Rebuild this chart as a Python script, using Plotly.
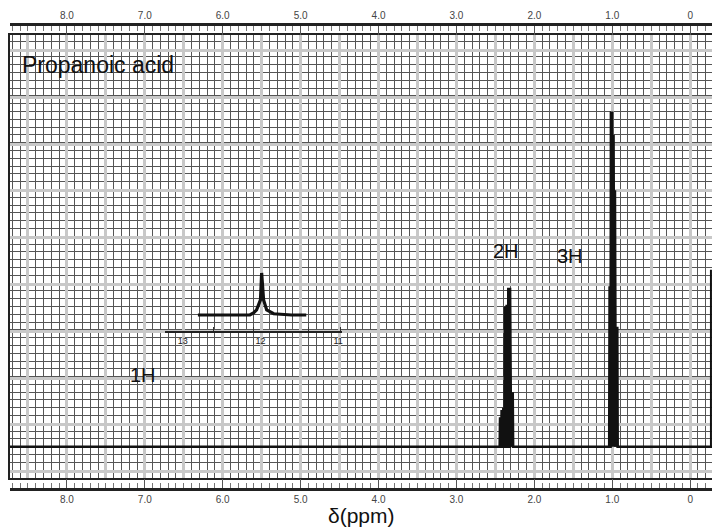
import plotly.graph_objects as go

# ---- chemical-shift scale (ppm, drawn high -> low) ----
ppm_left, ppm_right = 8.73, -0.28
shift_major = [8.5, 8.0, 7.5, 7.0, 6.5, 6.0, 5.5, 5.0, 4.5, 4.0,
               3.5, 3.0, 2.5, 2.0, 1.5, 1.0, 0.5, 0.0]
shift_text = ["", "8.0", "", "7.0", "", "6.0", "", "5.0", "", "4.0",
              "", "3.0", "", "2.0", "", "1.0", "", "0"]

# intensity in chart-paper divisions above the baseline
paper_bottom, paper_top = -4.0, 52.8

ch2_ppm = [2.440, 2.420, 2.398, 2.378, 2.355, 2.334, 2.312, 2.294, 2.278]
ch2_height = [3.8, 4.7, 5.0, 18.0, 18.2, 20.4, 20.4, 7.0, 7.0]

# CH3 triplet near 1.0 ppm
ch3_ppm = [1.034, 1.017, 1.000, 0.984, 0.966, 0.950, 0.936]
ch3_height = [20.6, 43.0, 43.0, 40.0, 32.9, 15.4, 15.4]

# COOH singlet (inset, 11-13 ppm), relative intensity
cooh_ppm = [12.806, 12.40, 12.136, 12.09, 12.05, 12.00, 11.985, 11.96, 11.92, 11.83, 11.60, 11.41]
cooh_int = [0.0, 0.0, 0.0, 0.05, 0.12, 0.36, 1.0, 0.36, 0.12, 0.03, 0.0, 0.0]
inset_ticks = [13, 12, 11]
inset_text = ["13", "12", "11"]
inset_minor = [12.61, 12.09, 11.38, 10.97]

# chart-paper rulings
fine_ppm = [round(0.1 * i, 1) for i in range(-2, 88)]          # every 0.1 ppm
fine_rows = list(range(-4, 53))                                  # every division
heavy_rows = [-3.2 + 6 * k for k in range(10)]                  # pale heavy rulings

# assemble the 1H trace from the stick list (narrow triangular lines on a flat baseline)
half_w = 0.005
sticks = sorted(zip(ch2_ppm + ch3_ppm, ch2_height + ch3_height), key=lambda s: -s[0])
spec_x, spec_y = [ppm_left], [0.0]
for p, h in sticks:
    spec_x += [p + half_w, p, p - half_w]
    spec_y += [0.0, h, 0.0]
spec_x.append(ppm_right)
spec_y.append(0.0)

FONT = "Arial, Liberation Sans, sans-serif"
INK = "#111111"
DARK_RULE = "#555555"
PALE_RULE = "#c8c8c8"

fig = go.Figure()
fig.add_trace(go.Scatter(x=spec_x, y=spec_y, mode="lines",
                         line=dict(color=INK, width=2.6), xaxis="x", yaxis="y",
                         hoverinfo="skip", showlegend=False))
# carriers for the top and bottom ppm scales
for ax in ("x2", "x3"):
    fig.add_trace(go.Scatter(x=[None], y=[None], xaxis=ax, yaxis="y",
                             hoverinfo="skip", showlegend=False))
fig.add_trace(go.Scatter(x=cooh_ppm, y=cooh_int, mode="lines",
                         line=dict(color=INK, width=3.2), xaxis="x4", yaxis="y4",
                         hoverinfo="skip", showlegend=False))

scale_common = dict(
    range=[ppm_left, ppm_right], overlaying="x", anchor="free",
    tickmode="array", tickvals=shift_major, ticktext=shift_text,
    ticks="inside", ticklen=9, tickwidth=1, tickcolor="#555555",
    minor=dict(tickmode="array", tickvals=fine_ppm, ticks="inside",
               ticklen=5, tickwidth=1, tickcolor="#777777", showgrid=False),
    showline=True, linewidth=2.5, linecolor="#222222",
    showgrid=False, zeroline=False,
    tickfont=dict(family=FONT, size=10, color="#444444"),
)

fig.update_layout(
    width=712, height=529,
    margin=dict(l=10, r=0, t=24, b=40, autoexpand=False),
    paper_bgcolor="white", plot_bgcolor="rgba(0,0,0,0)",
    xaxis=dict(
        domain=[0, 1], range=[ppm_left, ppm_right], anchor="y",
        tickmode="array", tickvals=shift_major,
        showgrid=True, gridcolor=PALE_RULE, gridwidth=2.5,
        minor=dict(tickmode="array", tickvals=fine_ppm, showgrid=True,
                   gridcolor=DARK_RULE, gridwidth=1, ticks=""),
        showticklabels=False, ticks="", zeroline=False,
        showline=True, linewidth=2, linecolor="#222222", mirror=True,
    ),
    xaxis2=dict(position=1, side="top", **scale_common),
    xaxis3=dict(position=0, side="bottom", **scale_common),
    yaxis=dict(
        domain=[0.0237, 0.9763], range=[paper_bottom, paper_top], anchor="x",
        tickmode="array", tickvals=heavy_rows,
        showgrid=True, gridcolor=PALE_RULE, gridwidth=2.5,
        minor=dict(tickmode="array", tickvals=fine_rows, showgrid=True,
                   gridcolor=DARK_RULE, gridwidth=1, ticks=""),
        showticklabels=False, ticks="", zeroline=False,
        showline=True, linewidth=2, linecolor="#222222",
    ),
    xaxis4=dict(
        domain=[0.2208, 0.4729], range=[13.23, 10.95], anchor="y4",
        tickmode="array", tickvals=inset_ticks, ticktext=inset_text, ticks="",
        minor=dict(tickmode="array", tickvals=inset_minor, ticks="inside",
                   ticklen=4, tickwidth=1, tickcolor="#333333"),
        showline=True, linewidth=1.5, linecolor="#222222",
        showgrid=False, zeroline=False,
        tickfont=dict(family=FONT, size=9, color="#222222"),
    ),
    yaxis4=dict(domain=[0.3398, 0.4753], range=[-0.381, 1.119], anchor="x4",
                visible=False),
    showlegend=False,
)

# partial right-hand frame edge
fig.add_shape(type="line", xref="x domain", yref="y", x0=0.9985, x1=0.9985,
              y0=0, y1=22.7, line=dict(color=INK, width=2))

labels = [
    dict(text="Propanoic acid", x=8.60, y=49.0, xanchor="left", size=23),
    dict(text="2H", x=2.368, y=25.1, xanchor="center", size=20),
    dict(text="3H", x=1.547, y=24.5, xanchor="center", size=20),
    dict(text="1H", x=7.02, y=9.2, xanchor="center", size=20),
]
for lb in labels:
    fig.add_annotation(text=lb["text"], x=lb["x"], y=lb["y"], xref="x", yref="y",
                       xanchor=lb["xanchor"], yanchor="middle", showarrow=False,
                       font=dict(family=FONT, size=lb["size"], color=INK))

fig.add_annotation(text="δ(ppm)", x=0.5, y=-0.056, xref="paper", yref="paper",
                   xanchor="center", yanchor="middle", showarrow=False,
                   font=dict(family=FONT, size=21, color=INK))

fig.write_html("out.html")
